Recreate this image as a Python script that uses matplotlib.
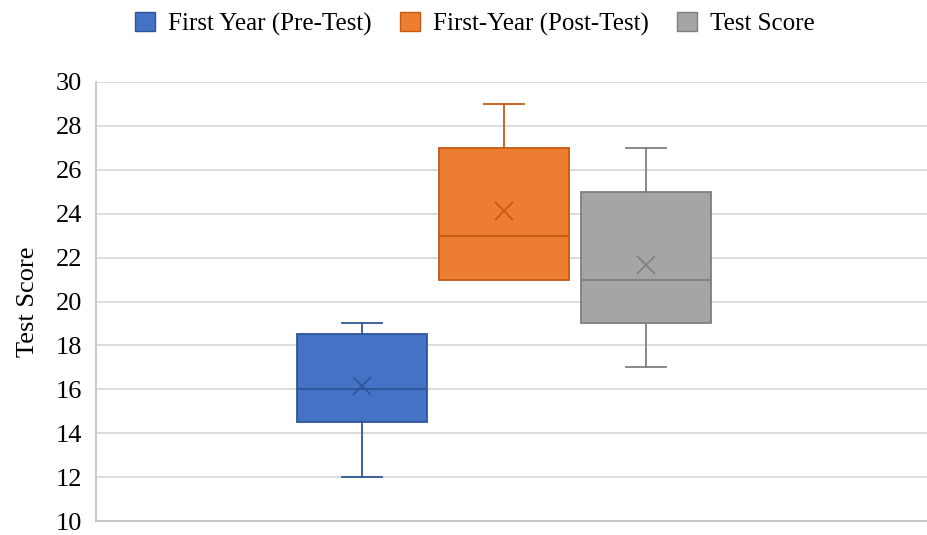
import matplotlib.pyplot as plt
from matplotlib.patches import Patch

plt.rcParams['font.family'] = ['Liberation Serif', 'DejaVu Serif']

# Summary statistics for each group
labels = ["First Year (Pre-Test)", "First-Year (Post-Test)", "Test Score"]
whisker_low = [12, 21, 17]
q1 = [14.5, 21, 19]
median = [16, 23, 21]
q3 = [18.5, 27, 25]
whisker_high = [19, 29, 27]
means = [16.14, 24.14, 21.68]

fills = ["#4472C4", "#ED7D31", "#A5A5A5"]
edges = ["#2F5597", "#C55A11", "#7F7F7F"]

fig = plt.figure(figsize=(9.27, 5.35), dpi=100)
ax = fig.add_axes([96 / 927, 14 / 535, 831 / 927, 439 / 535])

positions = [1, 2, 3]
for i in range(3):
    stats = [{
        "whislo": whisker_low[i], "q1": q1[i], "med": median[i],
        "q3": q3[i], "whishi": whisker_high[i], "mean": means[i],
        "fliers": [], "label": labels[i],
    }]
    res = ax.bxp(stats, positions=[positions[i]], widths=0.92, capwidths=0.28,
                 patch_artist=True, showmeans=True, manage_ticks=False,
                 boxprops=dict(facecolor=fills[i], edgecolor=edges[i], linewidth=1.3),
                 whiskerprops=dict(color=edges[i], linewidth=1.3),
                 capprops=dict(color=edges[i], linewidth=1.3),
                 medianprops=dict(color=edges[i], linewidth=1.3),
                 meanprops=dict(marker="x", markeredgecolor=edges[i],
                                markersize=13, markeredgewidth=1.2))
    # no lower whisker when it coincides with the box edge
    if whisker_low[i] == q1[i]:
        res["caps"][0].set_visible(False)
        res["whiskers"][0].set_visible(False)

ax.set_ylim(10, 30)
ax.set_xlim(-0.873, 4.979)
ax.set_yticks(range(10, 31, 2))
ax.set_xticks([])
ax.tick_params(axis="y", length=0, labelsize=19, pad=10)
ax.yaxis.grid(True, color="#d9d9d9", linewidth=1.3)
ax.set_axisbelow(True)
for side in ["top", "right"]:
    ax.spines[side].set_visible(False)
for side in ["left", "bottom"]:
    ax.spines[side].set_color("#c8c8c8")
    ax.spines[side].set_linewidth(1.3)
ax.set_ylabel("Test Score", fontsize=19, labelpad=12)

handles = [Patch(facecolor=fills[i], edgecolor=edges[i], label=labels[i])
           for i in range(3)]
fig.legend(handles=handles, loc="center", bbox_to_anchor=(475 / 927, 1 - 24 / 535),
           ncol=3, frameon=False, fontsize=18, handlelength=0.8, handleheight=0.8,
           handletextpad=0.55, columnspacing=1.1)

fig.savefig("out.png", dpi=100)
